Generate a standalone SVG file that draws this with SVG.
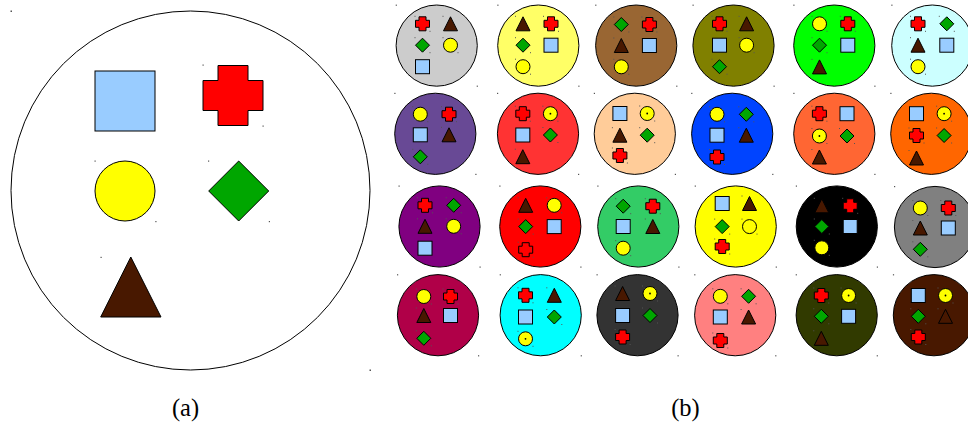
<svg xmlns="http://www.w3.org/2000/svg" width="968" height="427" viewBox="0 0 968 427">
<style>
.ol{stroke:#000;stroke-width:1}
.sq{fill:#99ccff}
.cr{fill:#ff0000}
.ci{fill:#ffff00}
.di{fill:#00a600}
.tr{fill:#481800}
.dt{fill:#555}
.lbl{font-family:"Liberation Serif","Times New Roman",serif;font-size:24.5px;fill:#000;text-anchor:middle}
</style>
<defs>
<g id="sq"><rect class="sq ol" x="-7" y="-7" width="14" height="14"/></g>
<g id="cr"><path class="cr ol" d="M-3.5,-7h7v3.5h3.5v7h-3.5v3.5h-7v-3.5h-3.5v-7h3.5z"/><rect class="dt" x="-8" y="-8" width="1" height="1"/><rect class="dt" x="7" y="7" width="1" height="1"/></g>
<g id="ci"><circle class="ci ol" r="7"/><rect class="dt" x="-8" y="-8" width="1" height="1"/><rect class="dt" x="7" y="7" width="1" height="1"/></g>
<g id="cd"><circle class="ci ol" r="7"/><circle r="0.9" fill="#000"/><rect class="dt" x="-8" y="-8" width="1" height="1"/><rect class="dt" x="7" y="7" width="1" height="1"/></g>
<g id="di"><path class="di ol" d="M0,-7L7,0L0,7L-7,0z"/><rect class="dt" x="-8" y="-8" width="1" height="1"/><rect class="dt" x="7" y="7" width="1" height="1"/></g>
<g id="tr"><path class="tr ol" d="M0,-7L7,7L-7,7z"/><rect class="dt" x="-8" y="-8" width="1" height="1"/></g>
<g id="bd"><rect class="dt" x="-41" y="-41" width="1.2" height="1.2"/><rect class="dt" x="40" y="40" width="1.2" height="1.2"/></g>
</defs>

<g id="panel-a">
<circle class="ol" cx="190.5" cy="190.5" r="179.5" fill="#fff"/>
<rect class="dt" x="10.5" y="10.5" width="1.5" height="1.5"/>
<rect class="dt" x="369.5" y="369.5" width="1.5" height="1.5"/>
<g id="a-square"><rect class="sq ol" x="95" y="71" width="60" height="60"/></g>
<g id="a-cross"><path class="cr ol" d="M218,65.5h30v15h15v30h-15v15h-30v-15h-15v-30h15z"/><rect class="dt" x="202.5" y="64.5" width="1.2" height="1.2"/><rect class="dt" x="262.5" y="125.5" width="1.2" height="1.2"/></g>
<g id="a-circle"><circle class="ci ol" cx="125" cy="191" r="30"/><rect class="dt" x="94.5" y="160.5" width="1.2" height="1.2"/><rect class="dt" x="155.3" y="221" width="1.2" height="1.2"/></g>
<g id="a-diamond"><path class="di ol" d="M238.7,161L268.7,191L238.7,221L208.7,191z"/><rect class="dt" x="208" y="160.5" width="1.2" height="1.2"/><rect class="dt" x="268.8" y="221" width="1.2" height="1.2"/></g>
<g id="a-triangle"><path class="tr ol" d="M130.8,257L161,317L100.7,317z"/><rect class="dt" x="100.5" y="256.8" width="1.2" height="1.2"/></g>
</g>

<g id="panel-b">
<g id="b-r1c1"><circle class="ol" cx="436.7" cy="45.6" r="40.6" fill="#cccccc"/><use href="#bd" x="436.7" y="45.6"/>
<use href="#cr" x="422.5" y="23.8"/><use href="#tr" x="450.5" y="23.8"/><use href="#di" x="422.5" y="45.2"/><use href="#ci" x="450.5" y="45.2"/><use href="#sq" x="422.5" y="66.7"/></g>
<g id="b-r1c2"><circle class="ol" cx="538.3" cy="45.6" r="40.6" fill="#ffff66"/><use href="#bd" x="538.3" y="45.6"/>
<use href="#tr" x="523" y="23.8"/><use href="#cr" x="551" y="23.8"/><use href="#di" x="523" y="45.2"/><use href="#sq" x="551" y="45.2"/><use href="#ci" x="523" y="66.7"/></g>
<g id="b-r1c3"><circle class="ol" cx="636.2" cy="45.6" r="40.6" fill="#996633"/><use href="#bd" x="636.2" y="45.6"/>
<use href="#di" x="621.3" y="24.5"/><use href="#cr" x="649.4" y="24.5"/><use href="#tr" x="621.3" y="45.5"/><use href="#sq" x="649.4" y="45.5"/><use href="#ci" x="621.3" y="66.8"/></g>
<g id="b-r1c4"><circle class="ol" cx="733.5" cy="45.6" r="40.6" fill="#808000"/><use href="#bd" x="733.5" y="45.6"/>
<use href="#cr" x="719.5" y="23.8"/><use href="#tr" x="746.6" y="23.8"/><use href="#sq" x="719.5" y="45.2"/><use href="#ci" x="746.6" y="45.2"/><use href="#di" x="719.5" y="66.7"/></g>
<g id="b-r1c5"><circle class="ol" cx="834.3" cy="45.6" r="40.6" fill="#00ff00"/><use href="#bd" x="834.3" y="45.6"/>
<use href="#ci" x="819.5" y="23.8"/><use href="#cr" x="847.8" y="23.8"/><use href="#di" x="819.5" y="45.2"/><use href="#sq" x="847.8" y="45.2"/><use href="#tr" x="819.5" y="66.9"/></g>
<g id="b-r1c6"><circle class="ol" cx="932.3" cy="45.6" r="40.6" fill="#ccffff"/><use href="#bd" x="932.3" y="45.6"/>
<use href="#cr" x="918" y="23.8"/><use href="#di" x="946.8" y="23.8"/><use href="#tr" x="918" y="45.2"/><use href="#sq" x="946.8" y="45.2"/><use href="#ci" x="918" y="66.7"/></g>

<g id="b-r2c1"><circle class="ol" cx="435.3" cy="133.8" r="40.6" fill="#684995"/><use href="#bd" x="435.3" y="133.8"/>
<use href="#ci" x="420.3" y="114.2"/><use href="#cr" x="449" y="114.2"/><use href="#sq" x="420.3" y="134.8"/><use href="#tr" x="449" y="134.8"/><use href="#di" x="420.3" y="156.8"/></g>
<g id="b-r2c2"><circle class="ol" cx="538" cy="133.8" r="40.6" fill="#ff3333"/><use href="#bd" x="538" y="133.8"/>
<use href="#cr" x="522.8" y="113.7"/><use href="#cd" x="550.4" y="113.7"/><use href="#sq" x="522.8" y="135"/><use href="#di" x="550.4" y="135"/><use href="#tr" x="522.8" y="156.7"/></g>
<g id="b-r2c3"><circle class="ol" cx="634.8" cy="133.8" r="40.6" fill="#ffcc99"/><use href="#bd" x="634.8" y="133.8"/>
<use href="#sq" x="619.9" y="113.5"/><use href="#cd" x="647.2" y="113.5"/><use href="#tr" x="619.9" y="135.2"/><use href="#di" x="647.2" y="135.2"/><use href="#cr" x="619.9" y="155.5"/></g>
<g id="b-r2c4"><circle class="ol" cx="732.2" cy="133.8" r="40.6" fill="#0044ff"/><use href="#bd" x="732.2" y="133.8"/>
<use href="#ci" x="717" y="114.3"/><use href="#di" x="746.3" y="114.3"/><use href="#sq" x="717" y="135.2"/><use href="#tr" x="746.3" y="135.2"/><use href="#cr" x="717" y="157"/></g>
<g id="b-r2c5"><circle class="ol" cx="834.3" cy="133.8" r="40.6" fill="#ff6633"/><use href="#bd" x="834.3" y="133.8"/>
<use href="#cr" x="819.4" y="113.7"/><use href="#sq" x="847" y="113.7"/><use href="#cd" x="819.4" y="136"/><use href="#di" x="847" y="136"/><use href="#tr" x="819.4" y="157"/></g>
<g id="b-r2c6"><circle class="ol" cx="931.3" cy="133.8" r="40.6" fill="#ff6600"/><use href="#bd" x="931.3" y="133.8"/>
<use href="#sq" x="916.5" y="113.7"/><use href="#cd" x="944.1" y="113.7"/><use href="#cr" x="916.5" y="135.5"/><use href="#di" x="944.1" y="135.5"/><use href="#tr" x="916.5" y="158"/></g>

<g id="b-r3c1"><circle class="ol" cx="439.5" cy="226.5" r="40.6" fill="#800080"/><use href="#bd" x="439.5" y="226.5"/>
<use href="#cr" x="425" y="205.3"/><use href="#di" x="453.7" y="205.3"/><use href="#tr" x="425" y="226.3"/><use href="#ci" x="453.7" y="226.3"/><use href="#sq" x="425" y="248.2"/></g>
<g id="b-r3c2"><circle class="ol" cx="540.3" cy="226.5" r="40.6" fill="#ff0000"/><use href="#bd" x="540.3" y="226.5"/>
<use href="#tr" x="525.7" y="205.3"/><use href="#ci" x="554.2" y="205.3"/><use href="#di" x="525.7" y="226.6"/><use href="#sq" x="554.2" y="226.6"/><use href="#cr" x="525.7" y="249.7"/></g>
<g id="b-r3c3"><circle class="ol" cx="638.3" cy="226.5" r="40.6" fill="#33cc66"/><use href="#bd" x="638.3" y="226.5"/>
<use href="#di" x="623.2" y="206.2"/><use href="#cr" x="652.8" y="206.2"/><use href="#sq" x="623.2" y="226.5"/><use href="#tr" x="652.8" y="226.5"/><use href="#ci" x="623.2" y="248.2"/></g>
<g id="b-r3c4"><circle class="ol" cx="735.7" cy="226.5" r="40.6" fill="#ffff00"/><use href="#bd" x="735.7" y="226.5"/>
<use href="#sq" x="722.2" y="203.5"/><use href="#tr" x="749.5" y="203.5"/><use href="#di" x="722.2" y="226.6"/><use href="#ci" x="749.5" y="226.6"/><use href="#cr" x="722.2" y="246.5"/></g>
<g id="b-r3c5"><circle class="ol" cx="836.8" cy="226.5" r="40.6" fill="#000000"/><use href="#bd" x="836.8" y="226.5"/>
<use href="#tr" x="821.8" y="205.8"/><use href="#cr" x="850.2" y="205.8"/><use href="#di" x="821.8" y="226.5"/><use href="#sq" x="850.2" y="226.5"/><use href="#ci" x="821.8" y="247.8"/></g>
<g id="b-r3c6"><circle class="ol" cx="935" cy="227" r="40.6" fill="#808080"/><use href="#bd" x="935" y="227"/>
<use href="#ci" x="920.3" y="208"/><use href="#cr" x="948.3" y="208"/><use href="#tr" x="920.3" y="228"/><use href="#sq" x="948.3" y="228"/><use href="#di" x="920.3" y="249.3"/></g>

<g id="b-r4c1"><circle class="ol" cx="438" cy="315.2" r="40.6" fill="#b00048"/><use href="#bd" x="438" y="315.2"/>
<use href="#ci" x="423.8" y="296.5"/><use href="#cr" x="450.5" y="296.5"/><use href="#tr" x="423.8" y="315.5"/><use href="#sq" x="450.5" y="315.5"/><use href="#di" x="423.8" y="338.3"/></g>
<g id="b-r4c2"><circle class="ol" cx="540.7" cy="315.2" r="40.6" fill="#00ffff"/><use href="#bd" x="540.7" y="315.2"/>
<use href="#cr" x="525.5" y="295.3"/><use href="#tr" x="554.3" y="295.3"/><use href="#sq" x="525.5" y="317"/><use href="#di" x="554.3" y="317"/><use href="#cd" x="525.5" y="338.8"/></g>
<g id="b-r4c3"><circle class="ol" cx="637.5" cy="315.2" r="40.6" fill="#333333"/><use href="#bd" x="637.5" y="315.2"/>
<use href="#tr" x="622.6" y="293.5"/><use href="#cd" x="650" y="293.5"/><use href="#sq" x="622.6" y="315.5"/><use href="#di" x="650" y="315.5"/><use href="#cr" x="622.6" y="337"/></g>
<g id="b-r4c4"><circle class="ol" cx="735.2" cy="315.2" r="40.6" fill="#ff8080"/><use href="#bd" x="735.2" y="315.2"/>
<use href="#ci" x="720.3" y="296.3"/><use href="#di" x="748.6" y="296.3"/><use href="#sq" x="720.3" y="317"/><use href="#tr" x="748.6" y="317"/><use href="#cr" x="720.3" y="340.5"/></g>
<g id="b-r4c5"><circle class="ol" cx="836.7" cy="315.2" r="40.6" fill="#313a00"/><use href="#bd" x="836.7" y="315.2"/>
<use href="#cr" x="821.3" y="295.5"/><use href="#cd" x="848.6" y="295.5"/><use href="#di" x="821.3" y="316.3"/><use href="#sq" x="848.6" y="316.3"/><use href="#tr" x="821.3" y="338.3"/></g>
<g id="b-r4c6"><circle class="ol" cx="933.9" cy="315.2" r="40.6" fill="#481800"/><use href="#bd" x="933.9" y="315.2"/>
<use href="#sq" x="918.3" y="295.5"/><use href="#cd" x="945.5" y="295.5"/><use href="#di" x="918.3" y="316.3"/><use href="#tr" x="945.5" y="316.3"/><use href="#cr" x="918.3" y="337"/></g>
</g>

<g id="labels">
<text class="lbl" x="185.5" y="415.5">(a)</text>
<text class="lbl" x="685.5" y="415.5">(b)</text>
</g>
</svg>
